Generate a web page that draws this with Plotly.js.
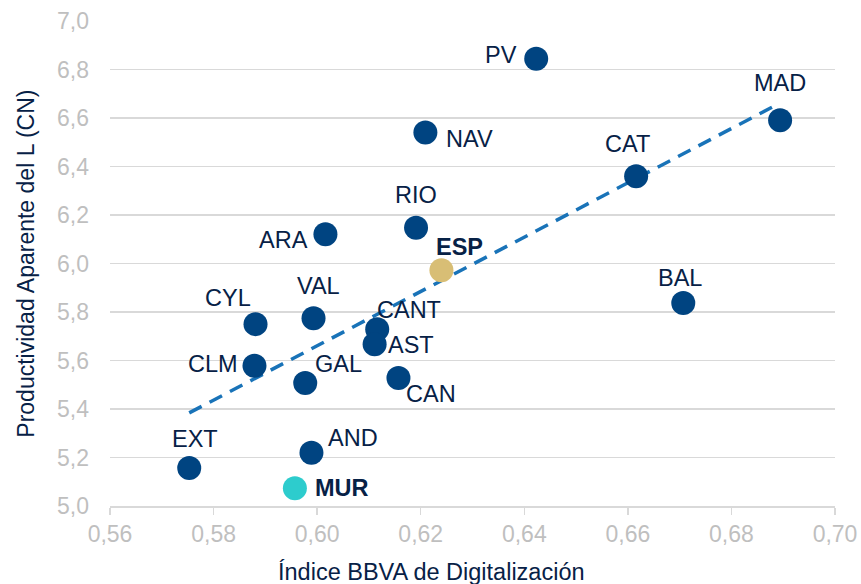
<!DOCTYPE html>
<html>
<head>
<meta charset="utf-8">
<script src="https://cdn.plot.ly/plotly-3.0.1.min.js"></script>
<style>html,body{margin:0;padding:0;background:#fff;}#chart{width:861px;height:584px;}</style>
</head>
<body>
<div id="chart"></div>
<script>
// Data
const regions = ["PV","MAD","NAV","CAT","RIO","ARA","ESP","BAL","CYL","VAL","CANT","AST","CLM","GAL","CAN","AND","EXT","MUR"];
const digitalIndex = [0.6423,0.6894,0.6209,0.6616,0.6191,0.6016,0.6240,0.6707,0.5881,0.5993,0.6116,0.6111,0.5879,0.5977,0.6157,0.5989,0.5753,0.5957];
const productivity = [6.844,6.591,6.540,6.360,6.147,6.121,5.972,5.837,5.750,5.774,5.729,5.667,5.578,5.507,5.528,5.220,5.157,5.073];
const trendX = [0.5753, 0.6879];
const trendY = [5.384, 6.645];
const xTicks = [0.56,0.58,0.60,0.62,0.64,0.66,0.68,0.70];
const yTicks = [5.0,5.2,5.4,5.6,5.8,6.0,6.2,6.4,6.6,6.8,7.0];

// Styling (label offsets in px, colours)
const labelDx = [-35,0,44,-9,0,-42,18,-3,-28,5,32,36,-41,33,33,42,6,47];
const labelDy = [4,37,-6,32,33,-6,23,25,26,32,19,-1,2,19,-16,15,29,0];
const highlight = {"ESP":"#D8BE75","MUR":"#2DCCCD"};
const navy = "#004481";
const textNavy = "#072146";
const FONT = "Liberation Sans, Arial, sans-serif";

const colors = regions.map(r => highlight[r] || navy);

const traces = [
  {
    x: trendX, y: trendY, mode: "lines", type: "scatter",
    line: {color: "#1973B8", width: 3.5, dash: "14px,9px"},
    hoverinfo: "skip", showlegend: false
  },
  {
    x: digitalIndex, y: productivity, mode: "markers", type: "scatter",
    marker: {size: 24, color: colors, line: {width: 0}},
    text: regions, hoverinfo: "text+x+y", showlegend: false
  }
];

const annotations = regions.map((r, i) => ({
  x: digitalIndex[i], y: productivity[i], xref: "x", yref: "y",
  text: (highlight[r] ? "<b>" + r + "</b>" : r),
  showarrow: false, xanchor: "center", yanchor: "middle",
  xshift: labelDx[i], yshift: labelDy[i],
  font: {family: FONT, size: 23.5, color: textNavy}
}));

annotations.push({
  xref: "paper", yref: "paper", x: -0.117, y: 0.5,
  text: "Productividad Aparente del L (CN)", textangle: -90,
  showarrow: false, xanchor: "center", yanchor: "middle",
  font: {family: FONT, size: 23, color: textNavy}
});
annotations.push({
  xref: "paper", yref: "paper", x: 0.444, y: -0.136,
  text: "Índice BBVA de Digitalización",
  showarrow: false, xanchor: "center", yanchor: "middle",
  font: {family: FONT, size: 23.5, color: textNavy}
});

const layout = {
  width: 861, height: 584,
  margin: {l: 110, r: 26, t: 21, b: 78, pad: 0},
  paper_bgcolor: "#ffffff", plot_bgcolor: "#ffffff",
  separators: ",.",
  font: {family: FONT},
  showlegend: false,
  xaxis: {
    range: [0.56, 0.70], tickvals: xTicks, tickformat: ".2f",
    showgrid: false, zeroline: false,
    showline: true, linecolor: "#D9D9D9", linewidth: 1.5,
    ticks: "outside", ticklen: 7, tickcolor: "#D9D9D9", tickwidth: 1.5,
    tickfont: {family: FONT, size: 23, color: "#BFBFBF"}
  },
  yaxis: {
    range: [5.0, 7.0], tickvals: yTicks, tickformat: ".1f",
    showgrid: true, gridcolor: "#D9D9D9", gridwidth: 1.5,
    zeroline: false, showline: false, ticks: "",
    ticklabelstandoff: 20,
    tickfont: {family: FONT, size: 23, color: "#BFBFBF"}
  },
  annotations: annotations
};

Plotly.newPlot("chart", traces, layout, {displayModeBar: false, staticPlot: true});
</script>
</body>
</html>
